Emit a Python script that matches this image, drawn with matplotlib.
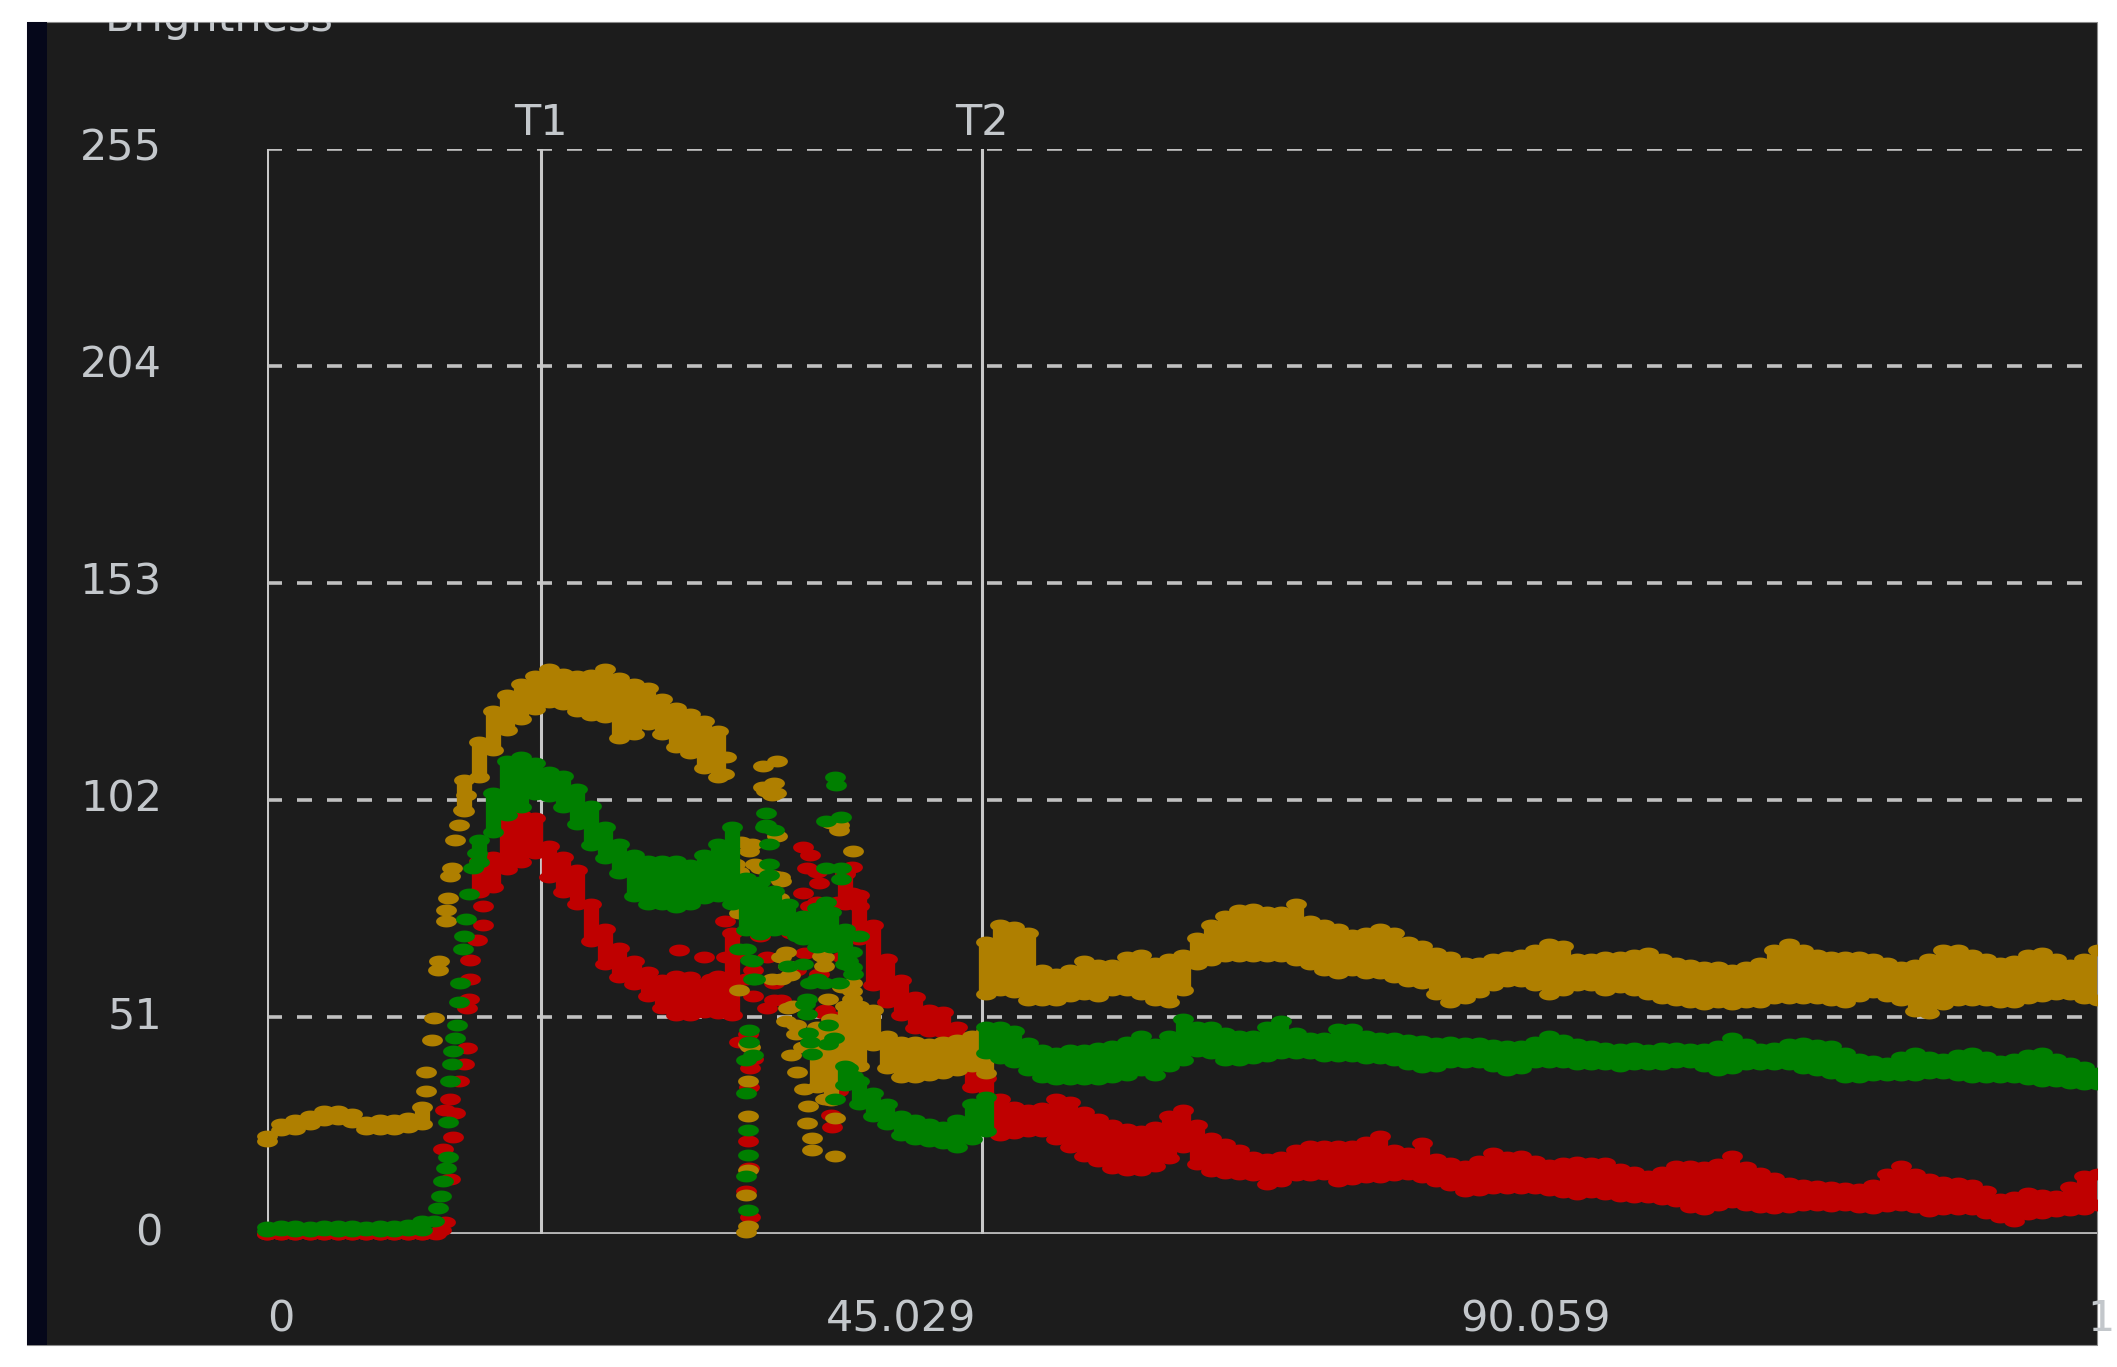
import matplotlib
matplotlib.use('Agg')
import matplotlib.pyplot as plt
import matplotlib.transforms as mtransforms
from matplotlib.patches import Rectangle
from matplotlib.path import Path
import numpy as np

# ---- values ----
y_ticks = [0, 51, 102, 153, 204, 255]
x_ticks = [0, 45.029, 90.059, 135.088]
x_tick_labels = ['0', '45.029', '90.059', '135.088']
t_pos = [19.43, 50.71]
t_names = ['T1', 'T2']

# band columns: x, lower edge, upper edge (outer edges of the dotted band)
gold_x = list(range(0, 12)) + list(range(14, 33)) + list(range(39, 52)) + list(range(51, 131))
gold_lo = [20.5, 23, 23.2, 24.5, 25.4, 25.6, 25, 23.2, 23.2, 23.2, 23.7, 24.5,
           98, 106, 112.4, 117, 119.5, 122, 123.5, 123, 121.5, 120.5, 120, 115, 116, 118.5, 116, 113, 111.5, 108, 106,
           33, 30, 36, 38, 43, 37.5, 35.5, 35.5, 36, 36.5, 37, 38, 36.5,
           55, 56, 55.5, 53.5, 53.5, 53.5, 54.5, 55, 54.5, 56, 56, 55, 53.5, 53,
           56, 62, 63, 64, 64, 64, 64, 64, 63, 62, 60.5, 60, 60.5, 60, 60, 59, 58, 57.5, 55, 53,
           54, 55.5, 57, 58, 58, 57, 55, 56, 57, 57, 56, 56.5, 56,
           55, 54, 53.5, 53, 52.5, 53, 52.5, 53, 53, 54, 54, 54, 54, 53.5, 53, 54.5, 55.5, 54.5,
           53.5, 51, 50.5, 52.5, 53.5, 53.5, 53.5, 53, 53, 54, 54.5, 55, 55, 54, 53.5]
gold_hi = [24.5, 27.3, 28.2, 29.1, 30.2, 30.2, 29.5, 27.7, 28.2, 28.2, 28.6, 31.3,
           108, 117, 124.2, 128, 130.5, 132.5, 134, 133, 132.5, 132.8, 134, 132, 130.5, 129.6, 127, 125, 123.5, 122, 119.5,
           50, 52, 55, 55, 54, 48, 46.5, 46.5, 46, 46.5, 47, 48, 49,
           70, 74, 73.5, 72, 63.5, 62.5, 63.5, 65.5, 64.5, 64.5, 66.5, 67, 65, 66,
           67, 71, 74, 76, 77.5, 77.7, 77, 77, 79, 75, 74, 73, 71.5, 72, 73, 72, 70, 69, 67.5, 66.5,
           65, 65, 66, 66.5, 67, 68, 69.5, 69, 66, 66, 66.5, 66.5, 67,
           67.5, 66, 65, 64.5, 64, 64, 63.5, 64, 65, 68, 69.5, 68, 67, 66.5, 66.5, 66.5, 66, 65,
           64, 64.5, 66, 68, 68, 67, 66, 65, 65.5, 67, 67.5, 66, 64.5, 66, 68]

green_x = list(range(0, 12)) + list(range(15, 42)) + list(range(41, 52)) + list(range(51, 131))
green_lo = [-0.6, -0.5, -0.6, -0.6, -0.5, -0.6, -0.6, -0.5, -0.6, -0.6, -0.5, -0.4,
            86, 93, 97, 99, 102, 101.5, 99, 95, 90, 87, 83.5, 78, 76.2, 76, 75.3, 76.2, 77.5, 78, 76,
            70, 69, 70, 70, 68, 66, 66, 62,
            33.6, 29.1, 26.4, 24.5, 21.9, 20.9, 20.5, 19.9, 19, 20.9, 22.7,
            41, 40, 39, 37.2, 35.4, 35, 35, 35, 35, 35.5, 36, 37, 36, 38,
            39.5, 41.5, 41, 39.5, 39.5, 40, 40.5, 41, 41, 41, 40.5, 40.5, 40.5, 40, 40, 39.5, 38.5,
            37.7, 38, 39, 39, 39, 38, 37, 37.5, 39, 39, 39, 38.5, 38.5, 38.5, 38, 38.5,
            38.5, 38.5, 39, 39, 38, 37, 37.5, 38.5, 38.5, 38.5, 38.5, 37.5, 37, 36.5, 35.5, 35.5, 36,
            36, 36, 36, 36.5, 36.5, 36, 35.5, 35.5, 35.5, 35.5, 35, 34.6, 34.5, 34, 33.8, 33.8]
green_hi = [3.0, 3.3, 3.2, 3.1, 3.3, 3.3, 3.2, 3.1, 3.2, 3.3, 3.4, 4.5,
            94, 105, 112.5, 113.5, 112, 110, 109, 106, 102, 97, 93, 90.5, 89, 89, 89, 88, 90.5, 93, 97,
            85, 84, 82, 79, 76, 78, 77, 73,
            40.8, 37.2, 34.5, 31.8, 29.1, 28.2, 27.3, 26.4, 28.2, 31.8, 33.6,
            50, 50, 49, 46.3, 44.5, 44, 44.5, 44.5, 45, 45.5, 46.5, 48, 46, 48,
            52, 50, 50, 48.5, 48, 48, 50, 51.5, 48.5, 47.5, 47.5, 49.5, 49.5, 48, 47.5, 47.5, 47,
            46.8, 46.3, 46.5, 46.3, 46.3, 45.8, 45.5, 45.5, 46.5, 47.9, 47, 46, 45.5, 45, 44.8, 45,
            44.5, 45, 45, 44.8, 44.8, 45.5, 47.5, 46, 44.8, 45, 46, 46.3, 45.8, 45.5, 44, 42.4, 42,
            41.6, 43, 44, 43, 42.4, 43.5, 44, 43, 42, 42.4, 43.5, 44, 42.5, 41.5, 40.5, 39.3]

red_x = list(range(0, 13)) + list(range(15, 34)) + list(range(41, 52)) + list(range(52, 131))
red_lo = [-1.5, -1.4, -1.5, -1.5, -1.4, -1.5, -1.5, -1.4, -1.5, -1.5, -1.4, -1.5, -1.4,
          79, 80, 84.3, 86, 88, 82.5, 79, 76, 67.5, 62, 59, 57.2, 54.4, 51.7, 50, 50, 50.8, 51, 50,
          76, 68, 57, 53, 50, 47, 46.3, 46, 42, 33, 26,
          21.9, 22.3, 22.7, 22.7, 21, 19, 17, 15.8, 14, 13.7, 13.7, 14.5, 16.4,
          19, 15, 13.5, 13, 12.7, 12.5, 10.3, 11, 12.5, 12.5, 12.7, 11, 11.5, 11.9, 12, 12.5, 12.7,
          12, 11, 10, 8.7, 9, 9.5, 9.5, 9.5, 9.5, 9, 8.5, 8, 8.5, 8, 7.5, 7.2,
          7.2, 6.8, 6.4, 5, 4.5, 5.5, 6, 5.5, 5, 4.8, 5, 5.3, 5.5, 5.2, 5.3, 5, 4.8,
          5.2, 5.5, 5, 4, 4.5, 4.5, 4.5, 3.5, 2.5, 1.7, 3.3, 3.5, 4, 4.2, 4.5, 5.5]
red_hi = [1.3, 1.4, 1.3, 1.3, 1.4, 1.3, 1.3, 1.4, 1.3, 1.3, 1.4, 1.3, 1.5,
          89, 90, 97.9, 99.7, 99, 92.5, 90, 87, 79, 73, 68.5, 65.5, 63, 61, 62, 61.7, 60, 62, 72,
          86, 81, 74, 66, 61, 57, 54, 53.5, 50, 45, 38,
          33, 31.3, 30.5, 31, 33, 32.5, 30, 28.5, 27, 26, 25.5, 26.5, 29,
          30.5, 27, 24, 22.5, 21, 19.5, 18.9, 19.5, 21, 22, 22, 22, 22, 23, 24.5, 21, 20.5,
          22.8, 19, 18.1, 17.4, 18.5, 20.5, 19.5, 19.7, 18.5, 17.5, 18, 18.2, 18.1, 18, 16.6, 16,
          15, 16, 17.4, 17.4, 17, 17.8, 19.7, 17, 15.8, 14.5, 13.4, 13, 12.7, 12.3, 12.2, 12, 13,
          15.5, 17.4, 15.5, 14.2, 13.5, 13.4, 13, 11.5, 9.5, 10, 11.1, 10.5, 10.3, 12.5, 15, 15.5]

# single samples: the steep rise before T1 and the noisy stretch between T1 and T2
gold_px = [11.3, 11.3, 11.7, 11.8, 12.1, 12.2, 12.7, 12.7, 12.8, 13.0, 13.1, 13.3, 13.6, 13.9, 14.1,
           32.6, 32.4, 33.2, 33.5, 33.6, 34.4, 34.6, 35.2, 35.4, 36.2, 36.0, 36.1, 36.2, 36.4, 34.6,
           36.3, 35.0, 36.8, 39.4, 37.1, 33.5, 35.8, 41.5, 41.5, 39.8, 40.8, 37.3, 36.8, 37.5, 38.0,
           39.0, 37.2, 37.6, 39.3, 38.1, 38.4, 38.3, 38.7, 38.7, 40.3, 40.3, 39.6, 41.2, 42.0, 42.3,
           40.6, 41.6, 34.1, 34.1, 34.1, 34.0, 34.1, 34.0, 34.1,
           35.2, 35.8, 40.0, 40.6, 32.5, 33.0, 34.2, 35.0, 36.0, 36.5, 33.5, 36.5, 37.0, 39.5,
           39.5, 41.5, 36.5, 37.0, 37.5, 34.3]
gold_py = [33.6, 38.1, 45.6, 50.8, 62.1, 64, 73.5, 76.2, 79, 84, 86, 92.5, 96, 99.7, 103,
           112, 108, 87, 85, 92, 91.6, 87, 110, 104, 111, 106, 103.5, 93.4, 83.9, 78,
           78.9, 71.6, 66.2, 65.3, 60.8, 57.2, 60, 59, 55.3, 55.3, 58, 53.5, 50, 47, 44,
           48, 42, 38, 40, 34, 30, 26, 22.5, 19.6, 18.2, 27.3, 31.8, 52, 50, 47,
           96.1, 90, 44.5, 27.7, 15, 9.1, 1.9, 0.5, 36,
           105, 103, 96.5, 95, 89, 85, 90, 86, 84, 83, 75.5, 65, 63, 65,
           63, 57, 60, 53, 49, 44]

green_px = [11.8, 12.1, 12.3, 12.5, 12.7, 12.8, 12.8, 13.0, 13.1, 13.2, 13.3, 13.5, 13.6, 13.7,
            13.9, 14.0, 14.1, 14.3, 14.6, 14.9,
            40.3, 40.4, 40.7, 35.4, 35.4, 35.6, 35.6, 35.6, 40.7, 40.7, 34.0, 34.3, 38.0, 34.6,
            39.0, 40.6, 41.5, 41.5, 38.3, 38.3, 39.8, 39.8, 34.2, 38.4, 34.0, 38.7, 40.3, 34.1,
            34.1, 34.0, 34.1, 34.0, 37.6, 36.5, 39.7, 41.6, 42.0, 37.0,
            35.3, 36.0, 39.7, 39.7, 39.7, 33.5, 34.5, 41.2, 41.6, 34.5, 38.5, 39.5, 38.2, 34.2,
            34.5, 40.2, 38.5, 41.2, 41.6]
green_py = [3, 6, 9, 12.5, 15.5, 18, 26.3, 36, 40, 43, 46, 49, 54.5, 59,
            67, 70, 74, 79.8, 86, 89.5,
            107.4, 105.5, 97.9, 98.8, 96, 91.6, 87, 84.3, 86, 83.4, 67, 64.4, 63.5, 59.9,
            59.9, 59, 66.2, 62.6, 55.3, 51.7, 49, 44.5, 48, 47.2, 40.8, 42.2, 31.8, 24.5,
            18.6, 13.6, 5.5, 33, 70, 72, 71, 36, 70, 63,
            95.5, 95, 97, 86, 78, 67, 64, 64, 61, 60, 59, 59, 54, 45,
            42, 46, 45, 39, 37]

red_px = [12.3, 12.6, 13.0, 12.5, 13.2, 12.6, 13.0, 13.3, 13.6, 14.0, 14.2, 14.2, 14.3, 14.4,
          14.4, 14.9, 15.3, 15.3,
          29.2, 32.5, 32.6, 33.0, 34.0, 35.0, 35.5, 36.0, 34.5, 35.5, 36.5, 38.0, 38.3, 39.2,
          41.5, 37.2, 38.2, 39.2, 37.5, 39.6, 39.8, 40.4, 40.5, 40.0, 40.1, 34.1, 34.3, 34.2,
          34.1, 34.2, 34.0, 34.3, 40.3, 39.5, 40.8, 38.0, 39.0, 40.5, 38.5, 39.8,
          31.0, 31.5, 31.0, 32.0, 33.5, 34.5, 36.0, 38.5, 39.0, 41.0, 41.5, 42.0, 38.5, 39.5,
          39.5, 40.3, 33.5, 34.5]
red_py = [1, 2.8, 12.8, 20, 22.7, 29, 31.8, 28.5, 36, 40, 43.6, 53, 55.3, 59.9,
          64.4, 69, 72.6, 77,
          66.7, 73.5, 65, 58, 60, 70, 65, 59, 56, 53, 55, 91, 86, 82.5,
          86.1, 70.7, 66, 61, 62, 52.6, 39, 35, 33.6, 28, 25, 47, 39, 34.6,
          21.9, 15.5, 10.1, 4, 70, 75, 65, 80, 78, 78, 72, 68,
          65, 60, 55, 52, 66, 62, 55, 89, 85, 85, 80, 77, 77, 77,
          52, 51, 45, 41]

# ---- figure ----
W, H = 2117, 1367
BG = '#1c1c1c'
TXT = '#c3c7cb'
FS = 31
plt.rcParams['lines.scale_dashes'] = False
plt.rcParams['font.family'] = 'DejaVu Sans'


def fx(px):
    return px / W


def fy(py):
    return 1 - py / H


fig = plt.figure(figsize=(W / 100, H / 100), dpi=100, facecolor='white')

panel = Rectangle((fx(27), fy(1345)), fx(2097) - fx(27), fy(22) - fy(1345),
                  transform=fig.transFigure, facecolor=BG, edgecolor='#8a8a8a',
                  linewidth=0.8, zorder=0)
fig.add_artist(panel)
fig.add_artist(Rectangle((fx(27), fy(1345)), fx(47) - fx(27), fy(22) - fy(1345),
                         transform=fig.transFigure, facecolor='#05071a',
                         edgecolor='none', zorder=0.5))

ax = fig.add_axes([fx(267.3), fy(1233.9), fx(2097) - fx(267.3), fy(148.5) - fy(1233.9)])
ax.set_facecolor('none')
for s in ax.spines.values():
    s.set_visible(False)
ax.set_xlim(0, 129.9)
ax.set_ylim(0, 255)
ax.set_xticks([])
ax.set_yticks([])

# grid and reference lines
for yv in y_ticks[1:]:
    ax.axhline(yv, color='#c0c0c0', lw=2.6, dashes=(10.8, 10.8), zorder=1)
ax.axhline(0, color='#b4b4b4', lw=2.8, zorder=1)
ax.axvline(0, color='#c8c8c8', lw=2.2, zorder=1)
tlab = mtransforms.blended_transform_factory(ax.transData, fig.transFigure)
for tv, name in zip(t_pos, t_names):
    ax.axvline(tv, color='#c8c8c8', lw=2.2, zorder=1)
    ax.text(tv, fy(135), name, transform=tlab, ha='center', va='baseline', color=TXT, fontsize=FS)

# tick labels
ytr = mtransforms.blended_transform_factory(fig.transFigure, ax.transData)
for yv in y_ticks:
    ax.text(fx(162), yv, str(yv), transform=ytr, ha='right', va='center',
            color=TXT, fontsize=FS)
xtr = mtransforms.blended_transform_factory(ax.transData, fig.transFigure)
for i, (xv, lab) in enumerate(zip(x_ticks, x_tick_labels)):
    if i == 0:
        t = ax.text(xv, fy(1319), lab, transform=xtr, ha='left', va='center', color=TXT, fontsize=FS)
    elif xv > 129.9:
        # label partly hidden by the right edge of the panel, as in the screenshot
        off = mtransforms.ScaledTranslation(-83 / 100, 0, fig.dpi_scale_trans)
        t = ax.text(xv, fy(1319), lab, transform=xtr + off, ha='left', va='center', color=TXT, fontsize=FS)
    else:
        t = ax.text(xv, fy(1319), lab, transform=xtr, ha='center', va='center', color=TXT, fontsize=FS)
    t.set_clip_path(panel)

title = fig.text(fx(105), fy(31.5), 'Brightness', ha='left', va='baseline', color=TXT, fontsize=FS)
title.set_clip_path(panel)

# ---- data ----
th = np.linspace(0, 2 * np.pi, 41)
dot = Path(np.column_stack([np.cos(th), 0.57 * np.sin(th)]))
dot_pt = 15.0
px_per_unit = ax.get_position().height * H / 255
pad = (dot_pt * 0.57 / 2 * 100 / 72) / px_per_unit


def draw(xs, lo, hi, px, py, color, z):
    xs = np.asarray(xs, float)
    a = np.asarray(lo, float) + pad
    b = np.maximum(np.asarray(hi, float) - pad, a)
    arts = [
        ax.vlines(xs, a, b, colors=color, linewidth=11, zorder=z),
        ax.scatter(np.r_[xs, xs, px], np.r_[a, b, py], s=dot_pt ** 2, marker=dot,
                   color=color, linewidths=0, zorder=z),
    ]
    for art in arts:
        art.set_clip_path(panel)


draw(red_x, red_lo, red_hi, red_px, red_py, '#bf0000', 3)
draw(gold_x, gold_lo, gold_hi, gold_px, gold_py, '#af7f00', 4)
draw(green_x, green_lo, green_hi, green_px, green_py, '#007f00', 5)

fig.savefig('out.png', dpi=100, facecolor='white')
